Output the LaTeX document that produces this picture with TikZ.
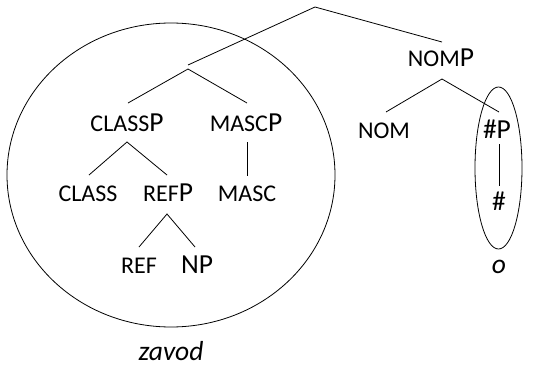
\documentclass[tikz,border=0pt]{standalone}
\usepackage{fontspec}
\setmainfont{Carlito}
\newcommand\smallc[1]{{\fontsize{24}{24}\selectfont #1}}
\begin{document}
\begin{tikzpicture}[x=1pt,y=-1pt,line width=0.8pt,
  lab/.style={anchor=base,inner sep=0pt,font=\fontsize{27.5}{27.5}\selectfont},
  branch/.style={draw=black,line width=0.8pt}]
\useasboundingbox (0,0) rectangle (542,367);
% circles
\draw (171,175) ellipse [x radius=164, y radius=152];
\draw (498.5,168) ellipse [x radius=23.5, y radius=81];
% labels
\node[lab] (nomp) at (441,66.7) {\smallc{NOM}P};
\node[lab] (nom) at (384,138) {\smallc{NOM}};
\node[lab] (hashp) at (497,138) {\#P};
\node[lab] (hash) at (499,210.7) {\#};
\node[lab] (o) at (499,273) {\itshape o};
\node[lab] (classp) at (127,131) {\smallc{CLASS}P};
\node[lab] (mascp) at (246,131) {\smallc{MASC}P};
\node[lab] (class) at (88,201.7) {\smallc{CLASS}};
\node[lab] (refp) at (168,201.7) {\smallc{REF}P};
\node[lab] (masc) at (247,201.7) {\smallc{MASC}};
\node[lab] (ref) at (139,273.5) {\smallc{REF}};
\node[lab] (np) at (197,273.5) {NP};
\node[lab] (zavod) at (171,360) {\itshape zavod};
% branch points
\coordinate (top) at (315,7);
\coordinate (xp) at (188,65);
\coordinate (xpb) at (188,69);
\coordinate (nompt) at (442,42);
\coordinate (nompb) at (442,79);
\coordinate (nomt) at (386,112);
\coordinate (hashpt) at (499,112);
\coordinate (hashpb) at (499,144);
\coordinate (hasht) at (499,186);
\coordinate (classpt) at (128,103);
\coordinate (mascpt) at (247,103);
\coordinate (classpb) at (127,142);
\coordinate (classt) at (89,175);
\coordinate (refpt) at (167,175);
\coordinate (mascpb) at (247,142);
\coordinate (masct) at (247,176);
\coordinate (refpb) at (167,214);
\coordinate (reft) at (139,247);
\coordinate (npt) at (195,247);
% branches
\draw[branch] (xp) -- (top) -- (nompt);
\draw[branch] (nomt) -- (nompb) -- (hashpt);
\draw[branch] (hashpb) -- (hasht);
\draw[branch] (classpt) -- (xpb) -- (mascpt);
\draw[branch] (classt) -- (classpb) -- (refpt);
\draw[branch] (mascpb) -- (masct);
\draw[branch] (reft) -- (refpb) -- (npt);
\end{tikzpicture}
\end{document}
